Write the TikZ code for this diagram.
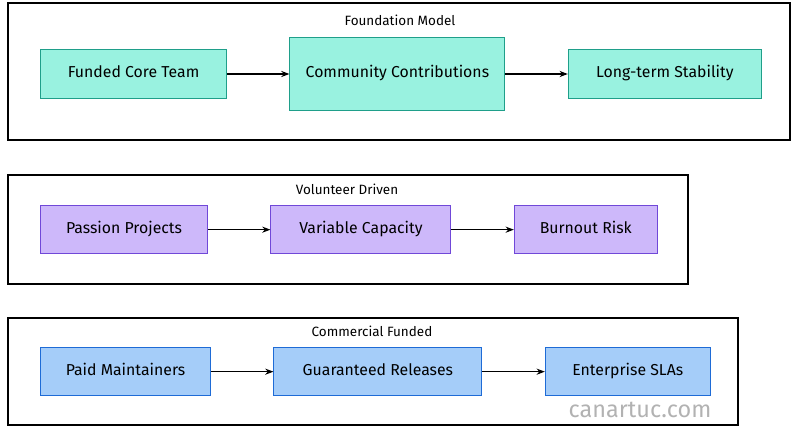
\documentclass[tikz,border=0pt]{standalone}
\usepackage{fontspec}
\setmainfont{Fira Sans}
\usetikzlibrary{arrows.meta,positioning}
\definecolor{teal1}{HTML}{99F2E0}
\definecolor{teal2}{HTML}{1F9F8A}
\definecolor{violet1}{HTML}{CDB8FA}
\definecolor{violet2}{HTML}{7048D8}
\definecolor{blue1}{HTML}{A5CDF9}
\definecolor{blue2}{HTML}{1E6BD6}
\tikzset{
  every node/.append style={font=\fontsize{13.5}{16}\selectfont},
  panel/.style={draw=black, line width=0.9pt},
  ptitle/.style={font=\fontsize{11.5}{13}\selectfont},
  stepbox/.style={draw, line width=0.9pt, minimum height=1.45cm, inner sep=2pt,
    text height=1.6ex, text depth=0.45ex},
  arrow/.style={-{Stealth[length=7pt]}, line width=1pt},
}
\begin{document}
\begin{tikzpicture}[node distance=1.87cm]
\useasboundingbox (0,0) rectangle (24,-13.11);

% --- Foundation Model ---
\draw[panel] (0.24,-0.09) rectangle (23.7,-4.2);
\node[ptitle] (t1) at (12,-0.6) {Foundation Model};
\node[stepbox, fill=teal1, draw=teal2, minimum width=5.58cm, anchor=west] (core) at (1.2,-2.22) {Funded Core Team};
\node[stepbox, fill=teal1, draw=teal2, minimum width=6.45cm, minimum height=2.19cm, right=of core] (comm) {Community Contributions};
\node[stepbox, fill=teal1, draw=teal2, minimum width=5.79cm, right=of comm] (stab) {Long-term Stability};
\draw[arrow] (core) -- (comm);
\draw[arrow] (comm) -- (stab);

% --- Volunteer Driven ---
\draw[panel] (0.24,-5.25) rectangle (20.64,-8.52);
\node[ptitle] (t2) at (10.41,-5.67) {Volunteer Driven};
\node[stepbox, fill=violet1, draw=violet2, minimum width=5.01cm, anchor=west] (pass) at (1.2,-6.89) {Passion Projects};
\node[stepbox, fill=violet1, draw=violet2, minimum width=5.4cm, right=of pass] (vari) {Variable Capacity};
\node[stepbox, fill=violet1, draw=violet2, minimum width=4.29cm, right=of vari] (burn) {Burnout Risk};
\draw[arrow] (pass) -- (vari);
\draw[arrow] (vari) -- (burn);

% --- Commercial Funded ---
\draw[panel] (0.24,-9.54) rectangle (22.14,-12.75);
\node[ptitle] (t3) at (11.16,-9.93) {Commercial Funded};
\node[stepbox, fill=blue1, draw=blue2, minimum width=5.1cm, anchor=west] (paid) at (1.2,-11.15) {Paid Maintainers};
\node[stepbox, fill=blue1, draw=blue2, minimum width=6.24cm, right=of paid] (guar) {Guaranteed Releases};
\node[stepbox, fill=blue1, draw=blue2, minimum width=4.95cm, right=of guar] (sla) {Enterprise SLAs};
\draw[arrow] (paid) -- (guar);
\draw[arrow] (guar) -- (sla);

% watermark
\node[text=black!30, font=\fontsize{20}{22}\selectfont] (mark) at (19.2,-12.3) {canartuc.com};
\end{tikzpicture}
\end{document}
